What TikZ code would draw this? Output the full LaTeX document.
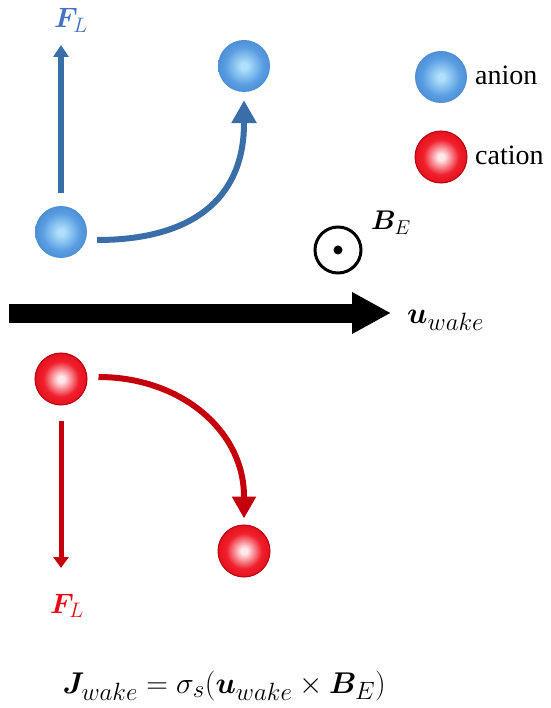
\RequirePackage{fix-cm}
\documentclass[tikz,border=0pt]{standalone}
\usepackage{bm}
\usepackage{fontspec}
\newfontfamily\tnr{Liberation Serif}
\usetikzlibrary{arrows.meta}
\DeclareMathSizes{30}{30}{25}{18}
\DeclareMathSizes{28}{28}{21}{15}
\DeclareMathSizes{27}{27}{20}{15}
\definecolor{ballBc}{HTML}{B0E0FC}
\definecolor{ballBm}{HTML}{5A9EE2}
\definecolor{ballBe}{HTML}{3A78C2}
\definecolor{ballBr}{HTML}{3470B8}
\definecolor{ballRc}{HTML}{FFE8EC}
\definecolor{ballRm}{HTML}{F0202C}
\definecolor{ballRe}{HTML}{DA0010}
\definecolor{ballRr}{HTML}{B8000E}
\definecolor{arrB}{HTML}{3A6EA8}
\definecolor{arrR}{HTML}{C4000C}
\definecolor{lblB}{HTML}{4472C4}
\definecolor{lblR}{HTML}{F00014}
\pgfdeclareradialshading{anionshade}{\pgfpoint{0bp}{0bp}}{color(0bp)=(ballBc); color(3bp)=(ballBc); color(18bp)=(ballBm); color(36bp)=(ballBe); color(50bp)=(ballBr)}
\pgfdeclareradialshading{cationshade}{\pgfpoint{0bp}{0bp}}{color(0bp)=(ballRc); color(3bp)=(ballRc); color(17bp)=(ballRm); color(34bp)=(ballRe); color(50bp)=(ballRe)}
\tikzset{
  ion/.style={circle, minimum size=52pt, inner sep=0pt},
  anionball/.style={ion, shade, shading=anionshade},
  cationball/.style={ion, shade, shading=cationshade, draw=ballRr, line width=1pt},
  forceB/.style={draw=arrB, line width=6pt, -{Triangle[length=12pt,width=15pt]}},
  forceR/.style={draw=arrR, line width=5pt, -{Triangle[length=11pt,width=15pt]}},
  pathB/.style={draw=arrB, line width=6pt, -{Triangle[length=23pt,width=24pt]}},
  pathR/.style={draw=arrR, line width=6pt, -{Triangle[length=22pt,width=23pt]}},
  flow/.style={draw=black, line width=19pt, -{Triangle[length=39pt,width=39pt]}},
  legtext/.style={anchor=base west, inner sep=0pt, font=\tnr\fontsize{28}{32}\selectfont},
  mathlbl/.style={inner sep=0pt},
}
\begin{document}
\begin{tikzpicture}[x=1pt,y=-1pt]
\path[use as bounding box] (0,0) rectangle (550,708);
% ions
\node[anionball] (a1) at (61,232) {};
\node[anionball] (a2) at (244,66) {};
\node[cationball] (c1) at (61,379) {};
\node[cationball] (c2) at (244,551) {};
% legend
\node[anionball] (la) at (441,77) {};
\node[cationball] (lc) at (441,157) {};
\node[legtext] (lat) at (475,85) {anion};
\node[legtext] (lct) at (475,165) {cation};
% Lorentz forces
\coordinate (fa) at (61,45);
\coordinate (fc) at (61,568);
\draw[forceB, shorten <=13pt] (a1.north) -- (fa);
\draw[forceR, shorten <=15pt] (c1.south) -- (fc);
\node[mathlbl, text=lblB, font=\fontsize{28}{32}\selectfont, anchor=base west] (flb) at (54,28) {$\bm{F}_{L}$};
\node[mathlbl, text=lblR, font=\fontsize{28}{32}\selectfont, anchor=base west] (flr) at (50,613) {$\bm{F}_{L}$};
% trajectories
\draw[pathB] ([shift={(10,8)}]a1.east) .. controls +(93,0) and +(0,77) .. ([yshift=-31pt]a2.south) -- ([yshift=-8pt]a2.south);
\draw[pathR] ([shift={(11,-2)}]c1.east) .. controls +(82,0) and +(0,-66) .. ([yshift=28pt]c2.north) -- ([yshift=6pt]c2.north);
% flow
\coordinate (ws) at (9,313);
\coordinate (we) at (391,313);
\draw[flow] (ws) -- (we);
\node[mathlbl, font=\fontsize{30}{36}\selectfont, anchor=base west] (uw) at (407,323) {$\bm{u}_{wake}$};
% magnetic field
\node[circle, draw=black, line width=3pt, minimum size=46pt, inner sep=0pt] (bf) at (338,250) {};
\fill (bf.center) circle (4.5pt);
\node[mathlbl, font=\fontsize{27}{31}\selectfont, anchor=base west] (be) at (371,230) {$\bm{B}_{E}$};
% formula
\node[mathlbl, font=\fontsize{30}{36}\selectfont, anchor=base east] (eq) at (386,693) {$\bm{J}_{wake}=\sigma_s(\bm{u}_{wake}\times\bm{B}_E)$};
\end{tikzpicture}
\end{document}
